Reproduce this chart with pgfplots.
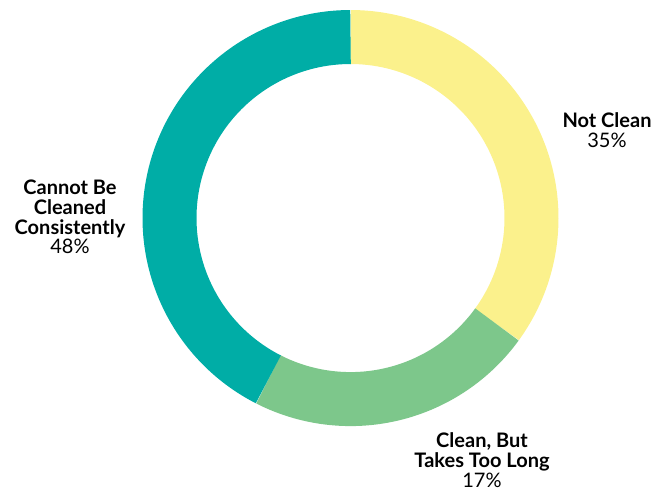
\documentclass[border=0pt]{standalone}
\usepackage{pgfplots}
\pgfplotsset{compat=1.18}
\usepackage{fontspec}
\setmainfont{Lato}
\definecolor{cyel}{HTML}{FBF18C}
\definecolor{cgrn}{HTML}{7DC78B}
\definecolor{cteal}{HTML}{00ADA6}
\begin{document}
\begin{tikzpicture}
\begin{axis}[
  width=330pt, height=242.5pt, scale only axis,
  xmin=0, xmax=660, ymin=0, ymax=485,
  hide axis, clip=false,
]
\path (axis cs:0,0) rectangle (axis cs:660,485);
% segments as drawn, in percent of the full circle (clockwise from 12 o'clock)
\addplot[cyel, line width=27pt, domain=0:35, samples=120]
  ({350.5+181*cos(90-3.6*x)},{267+181*sin(90-3.6*x)});
\addplot[cgrn, line width=27pt, domain=35:57.5, samples=80]
  ({350.5+181*cos(90-3.6*x)},{267+181*sin(90-3.6*x)});
\addplot[cteal, line width=27pt, domain=57.5:100, samples=140]
  ({350.5+181*cos(90-3.6*x)},{267+181*sin(90-3.6*x)});
\node[align=center, font=\fontsize{10}{9.8}\selectfont] at (axis cs:70,268)
  {\textbf{Cannot Be}\\\textbf{Cleaned}\\\textbf{Consistently}\\48\%};
\node[align=center, font=\fontsize{10}{9.8}\selectfont] at (axis cs:607,355)
  {\textbf{Not Clean}\\35\%};
\node[align=center, font=\fontsize{10}{9.8}\selectfont] at (axis cs:482,25)
  {\textbf{Clean, But}\\\textbf{Takes Too Long}\\17\%};
\end{axis}
\end{tikzpicture}
\end{document}
